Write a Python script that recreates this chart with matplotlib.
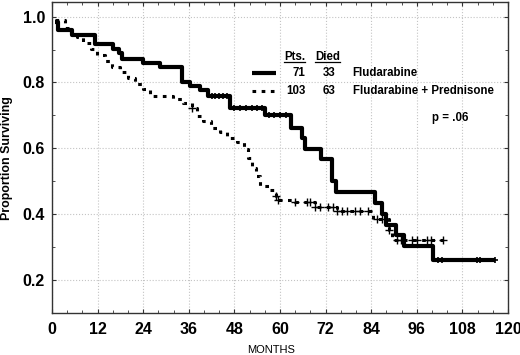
import matplotlib
matplotlib.use("Agg")
import matplotlib.pyplot as plt
import numpy as np
from matplotlib.lines import Line2D
from matplotlib.ticker import MultipleLocator

plt.rcParams["font.family"] = ["Liberation Sans", "DejaVu Sans"]

# Fludarabine (solid) - step points
flu_t = [0.8, 1.7, 5.2, 11.2, 16.1, 17.5, 18.3, 24.0, 28.5, 34.1, 36.3, 38.9, 41.1,
         46.8, 56.0, 62.8, 65.7, 66.6, 70.8, 73.6, 74.7, 85.0, 86.8, 87.9, 90.5,
         92.5, 100.3, 116.6]
flu_s = [0.985, 0.960, 0.945, 0.916, 0.901, 0.889, 0.871, 0.859, 0.846, 0.800, 0.790,
         0.776, 0.760, 0.722, 0.700, 0.662, 0.630, 0.598, 0.566, 0.500, 0.467, 0.432,
         0.401, 0.367, 0.335, 0.303, 0.261, 0.261]
flu_cens = [42, 43, 44, 45, 46, 48, 49.5, 51, 52.5, 54, 55.3, 57, 58.5, 60, 61.5,
            101.7, 102.5, 111.8, 112.6, 116.6]

# Fludarabine + Prednisone (dashed)
fp_t = [0.8, 3.5, 5.0, 6.5, 8.1, 10.2, 11.8, 13.9, 15.7, 17.9, 20.1, 21.8, 24.0, 25.8,
        31.8, 34.4, 36.8, 38.1, 39.8, 41.8, 44.2, 46.1, 48.6, 50.5, 51.7, 52.5, 53.7,
        54.7, 57.2, 58.9, 59.6, 63.9, 69.2, 75.1, 84.6, 88.8, 89.6, 102.8]
fp_s = [0.990, 0.965, 0.950, 0.937, 0.921, 0.901, 0.884, 0.866, 0.848, 0.831, 0.813,
        0.796, 0.781, 0.758, 0.750, 0.738, 0.722, 0.699, 0.682, 0.660, 0.650, 0.630,
        0.618, 0.599, 0.571, 0.541, 0.515, 0.485, 0.473, 0.455, 0.442, 0.435, 0.422,
        0.409, 0.386, 0.352, 0.320, 0.320]
fp_cens = [36.8, 59.0, 59.6, 63.9, 67.0, 67.9, 69.2, 70.5, 72.7, 73.9, 75.1, 76.2,
           77.7, 79.7, 81.0, 83.2, 85.4, 86.8, 88.8, 90.7, 91.8, 94.7, 96.0, 98.6,
           99.7, 102.8]

x_ticks = [0, 12, 24, 36, 48, 60, 72, 84, 96, 108, 120]
y_ticks = [0.2, 0.4, 0.6, 0.8, 1.0]

legend_rows = [("71", "33", "Fludarabine"), ("103", "63", "Fludarabine + Prednisone")]
p_text = "p = .06"

W, H = 520, 355
DASH = (0, (1.2, 1.8))


def step_value(t, s, x):
    t = np.asarray(t)
    s = np.asarray(s)
    idx = np.searchsorted(t, x, side="right") - 1
    return s[np.clip(idx, 0, len(s) - 1)]


def fx(px):
    return px / W


def fy(py):
    return 1 - py / H


fig = plt.figure(figsize=(5.2, 3.55), dpi=100)
ax = fig.add_axes([fx(52), fy(312.7), fx(508) - fx(52), fy(2) - fy(312.7)])

ax.step(flu_t, flu_s, where="post", color="black", lw=3.0, solid_capstyle="butt")
ax.step(fp_t, fp_s, where="post", color="black", lw=2.2, linestyle=DASH)

ax.plot(flu_cens, step_value(flu_t, flu_s, flu_cens), "+", color="black", ms=5, mew=1.2)
ax.plot(fp_cens, step_value(fp_t, fp_s, fp_cens), "+", color="black", ms=5.5, mew=1.0)

ax.set_xlim(0, 120)
ax.set_ylim(0.1, 1.0445)
ax.set_xticks(x_ticks)
ax.set_yticks(y_ticks)
ax.set_yticklabels([f"{v:.1f}" for v in y_ticks])
ax.xaxis.set_minor_locator(MultipleLocator(4))
ax.yaxis.set_minor_locator(MultipleLocator(0.1))
ax.tick_params(which="both", direction="in", top=True, right=True, color="#333333")
ax.tick_params(which="major", length=3, width=0.8)
ax.tick_params(which="minor", length=2, width=0.6)
ax.tick_params(axis="x", pad=6.5, labelsize=11.5)
ax.tick_params(axis="y", pad=5, labelsize=11.5)
for lab in ax.get_xticklabels() + ax.get_yticklabels():
    lab.set_fontweight("bold")
ax.grid(True, which="major", color="#c4c4c4", linestyle=":", lw=0.8)
for sp in ax.spines.values():
    sp.set_color("#333333")
    sp.set_linewidth(1.0)

fig.text(fx(7), fy(158), "Proportion Surviving", rotation=90, ha="center", va="center",
         fontsize=8.9, fontweight="bold")
fig.text(fx(271), fy(350), "MONTHS", ha="center", va="center", fontsize=8)

# manual legend block
fig.text(fx(284), fy(56.7), "Pts.", ha="left", va="center", fontsize=8.3, fontweight="bold")
fig.text(fx(315), fy(56.7), "Died", ha="left", va="center", fontsize=8.3, fontweight="bold")
fig.add_artist(Line2D([fx(284), fx(304.5)], [fy(61.5), fy(61.5)], color="black", lw=0.9))
fig.add_artist(Line2D([fx(315), fx(340)], [fy(61.5), fy(61.5)], color="black", lw=0.9))

row_y = [73.3, 91.0]
styles = [dict(lw=3.0, linestyle="-", solid_capstyle="butt"), dict(lw=2.2, linestyle=DASH)]
for (pts, died, name), y, st in zip(legend_rows, row_y, styles):
    fig.add_artist(Line2D([fx(251.7), fx(276)], [fy(y), fy(y)], color="black", **st))
    fig.text(fx(305.5), fy(y), pts, ha="right", va="center", fontsize=8.3, fontweight="bold")
    fig.text(fx(335.5), fy(y), died, ha="right", va="center", fontsize=8.3, fontweight="bold")
    fig.text(fx(352.7), fy(y), name, ha="left", va="center", fontsize=8.3, fontweight="bold")

fig.text(fx(431.7), fy(118.3), p_text, ha="left", va="center", fontsize=8.3, fontweight="bold")

fig.savefig("out.png", dpi=100)
